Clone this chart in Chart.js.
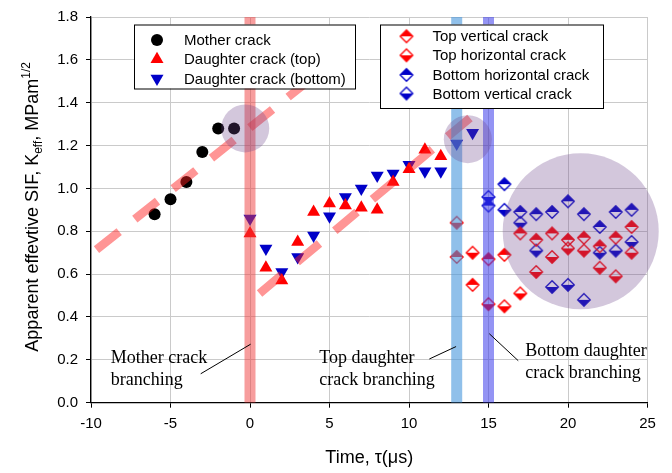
<!DOCTYPE html>
<html>
<head>
<meta charset="utf-8">
<script src="https://cdn.jsdelivr.net/npm/chart.js@4.4.0/dist/chart.umd.min.js"></script>
<style>
    html, body { margin: 0; padding: 0; background: #fff; }
    #wrap { width: 672px; height: 473px; }
</style>
</head>
<body>
<div id="wrap"><canvas id="SifChart"></canvas></div>
<script>
// measured values, time in microseconds, K in MPa m^1/2
const motherTime = [-6, -5, -4, -3, -2, -1];
const motherK = [0.88, 0.95, 1.03, 1.17, 1.28, 1.28];

const daughterTopTime = [0, 1, 2, 3, 4, 5, 6, 7, 8, 9, 10, 11, 12];
const daughterTopK = [0.79, 0.63, 0.57, 0.75, 0.89, 0.93, 0.92, 0.91, 0.90, 1.03, 1.09, 1.18, 1.15];

const daughterBottomTime = [0, 1, 2, 3, 4, 5, 6, 7, 8, 9, 10, 11, 12, 13, 14];
const daughterBottomK = [0.86, 0.72, 0.61, 0.68, 0.78, 0.87, 0.96, 1.00, 1.06, 1.07, 1.11, 1.08, 1.08, 1.21, 1.26];

const topCrackTime = [13, 14, 15, 16, 17, 18, 19, 20, 21, 22, 23, 24];
const topVerticalK = [0.68, 0.55, 0.67, 0.69, 0.79, 0.76, 0.79, 0.76, 0.77, 0.73, 0.77, 0.82];
const topHorizontalK = [0.84, 0.70, 0.46, 0.45, 0.51, 0.61, 0.68, 0.72, 0.71, 0.63, 0.59, 0.70];

const bottomCrackTime = [15, 16, 17, 18, 19, 20, 21, 22, 23, 24];
const bottomHorizontalK = [0.92, 1.02, 0.89, 0.88, 0.89, 0.94, 0.88, 0.82, 0.89, 0.90];
const bottomVerticalK = [0.96, 0.90, 0.84, 0.71, 0.54, 0.55, 0.48, 0.70, 0.71, 0.75];

// branching instants: mother, top daughter, bottom daughter
const branchTime = [0, 13, 15];

// trend lines
const motherTrendTime = [-10, 5];
const motherTrendK = [0.694, 1.58];
const daughterTrendTime = [0.6, 13.85];
const daughterTrendK = [0.51, 1.33];

// highlighted zones
const zoneTime = [-0.3, 13.7, 20.8];
const zoneK = [1.28, 1.23, 0.80];

const RED = '#ff0000';
const BLUE = '#0000c8';
const SANS = '"Liberation Sans", Arial, sans-serif';
const SERIF = '"Liberation Serif", "Times New Roman", serif';

Chart.defaults.font.family = SANS;
Chart.defaults.color = '#000';

const pts = (xs, ys) => xs.map((x, i) => ({x: x, y: ys[i]}));

// diamond with one half filled, the other half outlined
function halfDiamond(color, fillTop) {
    const c = document.createElement('canvas');
    c.width = 16;
    c.height = 16;
    const g = c.getContext('2d');
    const m = 8, h = 6.3;
    g.beginPath();
    g.moveTo(m - h, m);
    g.lineTo(m, fillTop ? m - h : m + h);
    g.lineTo(m + h, m);
    g.closePath();
    g.fillStyle = color;
    g.fill();
    g.beginPath();
    g.moveTo(m, m - h);
    g.lineTo(m + h, m);
    g.lineTo(m, m + h);
    g.lineTo(m - h, m);
    g.closePath();
    g.lineWidth = 1.3;
    g.strokeStyle = color;
    g.stroke();
    return c;
}

const topVerticalIcon = halfDiamond(RED, true);
const topHorizontalIcon = halfDiamond(RED, false);
const bottomHorizontalIcon = halfDiamond(BLUE, true);
const bottomVerticalIcon = halfDiamond(BLUE, false);

function drawTriangle(ctx, x, y, r, down, color) {
    let rad = down ? Math.PI : 0;
    ctx.beginPath();
    for (let i = 0; i < 3; i++) {
        const px = x + Math.sin(rad) * r;
        const py = y - Math.cos(rad) * r;
        if (i === 0) ctx.moveTo(px, py); else ctx.lineTo(px, py);
        rad += Math.PI * 2 / 3;
    }
    ctx.closePath();
    ctx.fillStyle = color;
    ctx.fill();
}

const legendBoxes = [
    {
        dx: 43, dy: 7.5, w: 221, h: 64, markerX: 23, textX: 50, rowY: [15.5, 34.8, 54],
        entries: [
            {text: 'Mother crack', draw: (ctx, x, y) => { ctx.beginPath(); ctx.arc(x, y, 6, 0, Math.PI * 2); ctx.fillStyle = '#000'; ctx.fill(); }},
            {text: 'Daughter crack (top)', draw: (ctx, x, y) => drawTriangle(ctx, x, y, 7.5, false, RED)},
            {text: 'Daughter crack (bottom)', draw: (ctx, x, y) => drawTriangle(ctx, x, y, 7.5, true, BLUE)}
        ]
    },
    {
        dx: 289, dy: 7.5, w: 223, h: 83.5, markerX: 26.5, textX: 52.5, rowY: [11.8, 30.8, 50.4, 69],
        entries: [
            {text: 'Top vertical crack', icon: topVerticalIcon},
            {text: 'Top horizontal crack', icon: topHorizontalIcon},
            {text: 'Bottom horizontal crack', icon: bottomHorizontalIcon},
            {text: 'Bottom vertical crack', icon: bottomVerticalIcon}
        ]
    }
];

const notes = [
    {lines: ['Mother crack', 'branching'], at: [-8.76, 0.184], from: [-3.1, 0.135], to: [0.04, 0.273]},
    {lines: ['Top daughter', 'crack branching'], at: [4.36, 0.185], from: [11.28, 0.204], to: [12.96, 0.262]},
    {lines: ['Bottom daughter', 'crack branching'], at: [17.31, 0.216], from: [16.87, 0.196], to: [15.05, 0.322]}
];

const crackNotes = {
    id: 'crackNotes',
    afterDatasetsDraw(chart) {
        const {ctx, chartArea, scales: {x, y}} = chart;
        ctx.save();

        // branching notes with leader lines
        ctx.strokeStyle = '#000';
        ctx.lineWidth = 1;
        ctx.font = '18px ' + SERIF;
        ctx.fillStyle = '#000';
        ctx.textBaseline = 'alphabetic';
        ctx.textAlign = 'left';
        notes.forEach(n => {
            ctx.beginPath();
            ctx.moveTo(x.getPixelForValue(n.from[0]), y.getPixelForValue(n.from[1]));
            ctx.lineTo(x.getPixelForValue(n.to[0]), y.getPixelForValue(n.to[1]));
            ctx.stroke();
            const tx = x.getPixelForValue(n.at[0]);
            const ty = y.getPixelForValue(n.at[1]);
            n.lines.forEach((line, i) => ctx.fillText(line, tx, ty + i * 21.5));
        });

        // legend boxes
        ctx.font = '15px ' + SANS;
        ctx.textBaseline = 'middle';
        legendBoxes.forEach(b => {
            const left = chartArea.left + b.dx;
            const top = chartArea.top + b.dy;
            ctx.fillStyle = '#fff';
            ctx.fillRect(left, top, b.w, b.h);
            ctx.strokeStyle = '#000';
            ctx.lineWidth = 1;
            ctx.strokeRect(left + 0.5, top + 0.5, b.w, b.h);
            b.entries.forEach((e, i) => {
                const my = top + b.rowY[i];
                const mx = left + b.markerX;
                if (e.icon) {
                    ctx.drawImage(e.icon, mx - e.icon.width / 2, my - e.icon.height / 2);
                } else {
                    e.draw(ctx, mx, my);
                }
                ctx.fillStyle = '#000';
                ctx.fillText(e.text, left + b.textX, my + 1);
            });
        });
        ctx.restore();
    },
    afterDraw(chart) {
        const {ctx, chartArea} = chart;
        ctx.save();
        ctx.fillStyle = '#000';

        // x axis title
        ctx.font = '18px ' + SANS;
        ctx.textAlign = 'center';
        ctx.textBaseline = 'middle';
        ctx.fillText('Time, \u03c4(\u03bcs)', (chartArea.left + chartArea.right) / 2, 458);

        // y axis title with subscript and superscript
        const parts = [
            {t: 'Apparent effevtive SIF, K', size: 18, dy: 0},
            {t: 'eff', size: 12, dy: 4},
            {t: ', MPam', size: 18, dy: 0},
            {t: '1/2', size: 12, dy: -8}
        ];
        let total = 0;
        parts.forEach(p => { ctx.font = p.size + 'px ' + SANS; p.w = ctx.measureText(p.t).width; total += p.w; });
        ctx.translate(31, (chartArea.top + chartArea.bottom) / 2 - 3);
        ctx.rotate(-Math.PI / 2);
        ctx.textAlign = 'left';
        ctx.textBaseline = 'alphabetic';
        let cx = -total / 2;
        parts.forEach(p => {
            ctx.font = p.size + 'px ' + SANS;
            ctx.fillText(p.t, cx, 6.5 + p.dy);
            cx += p.w;
        });
        ctx.restore();
    }
};

const bandColors = ['rgba(240, 60, 60, 0.5)', 'rgba(70, 150, 220, 0.6)', 'rgba(60, 60, 235, 0.55)'];
const bands = branchTime.map((t, i) => ({
    label: 'branch ' + i,
    data: pts([t, t], [0, 1.8]),
    showLine: true,
    borderColor: bandColors[i],
    borderWidth: 11,
    borderCapStyle: 'butt',
    pointRadius: 0,
    order: 1
}));

new Chart(document.querySelector('#SifChart'), {
    type: 'scatter',
    data: {
        datasets: [
            {
                label: 'zones',
                data: pts(zoneTime, zoneK),
                pointStyle: 'circle',
                pointRadius: [24, 24, 78],
                backgroundColor: 'rgba(110, 70, 140, 0.3)',
                borderWidth: 0,
                clip: false,
                order: 0
            },
            ...bands,
            {
                label: 'mother trend',
                data: pts(motherTrendTime, motherTrendK),
                showLine: true,
                borderColor: 'rgba(255, 30, 30, 0.47)',
                borderWidth: 8.5,
                borderDash: [29, 20],
                borderDashOffset: 42,
                borderCapStyle: 'butt',
                pointRadius: 0,
                order: 2
            },
            {
                label: 'daughter trend',
                data: pts(daughterTrendTime, daughterTrendK),
                showLine: true,
                borderColor: 'rgba(255, 30, 30, 0.47)',
                borderWidth: 8.5,
                borderDash: [29, 20],
                borderCapStyle: 'butt',
                pointRadius: 0,
                order: 2
            },
            {
                label: 'Mother crack',
                data: pts(motherTime, motherK),
                pointStyle: 'circle',
                pointRadius: 6,
                backgroundColor: '#000',
                borderWidth: 0,
                order: 3
            },
            {
                label: 'Daughter crack (top)',
                data: pts(daughterTopTime, daughterTopK),
                pointStyle: 'triangle',
                pointRadius: 7.5,
                backgroundColor: RED,
                borderWidth: 0,
                order: 3
            },
            {
                label: 'Daughter crack (bottom)',
                data: pts(daughterBottomTime, daughterBottomK),
                pointStyle: 'triangle',
                rotation: 180,
                pointRadius: 7.5,
                backgroundColor: BLUE,
                borderWidth: 0,
                order: 3
            },
            {
                label: 'Top vertical crack',
                data: pts(topCrackTime, topVerticalK),
                pointStyle: topVerticalIcon,
                pointRadius: 6,
                order: 3
            },
            {
                label: 'Top horizontal crack',
                data: pts(topCrackTime, topHorizontalK),
                pointStyle: topHorizontalIcon,
                pointRadius: 6,
                order: 3
            },
            {
                label: 'Bottom horizontal crack',
                data: pts(bottomCrackTime, bottomHorizontalK),
                pointStyle: bottomHorizontalIcon,
                pointRadius: 6,
                order: 3
            },
            {
                label: 'Bottom vertical crack',
                data: pts(bottomCrackTime, bottomVerticalK),
                pointStyle: bottomVerticalIcon,
                pointRadius: 6,
                order: 3
            }
        ]
    },
    options: {
        responsive: true,
        maintainAspectRatio: false,
        animation: false,
        events: [],
        layout: {autoPadding: false, padding: {left: 0, top: 11, right: 24.5, bottom: 0}},
        plugins: {
            legend: {display: false},
            tooltip: {enabled: false}
        },
        scales: {
            x: {
                type: 'linear',
                min: -10,
                max: 25,
                afterFit: s => { s.height = 70.3; },
                ticks: {stepSize: 5, padding: 7, maxRotation: 0, font: {size: 15}, color: '#000'},
                grid: {color: '#cacaca', lineWidth: 1, tickColor: '#000', tickLength: 5},
                border: {color: '#000', width: 1.3}
            },
            y: {
                type: 'linear',
                min: 0,
                max: 1.8,
                afterFit: s => { s.width = 91; },
                ticks: {stepSize: 0.2, padding: 8, font: {size: 15}, color: '#000', callback: v => v.toFixed(1)},
                grid: {color: '#cacaca', lineWidth: 1, tickColor: '#000', tickLength: 5},
                border: {color: '#000', width: 1.3}
            }
        }
    },
    plugins: [crackNotes]
});
</script>
</body>
</html>
